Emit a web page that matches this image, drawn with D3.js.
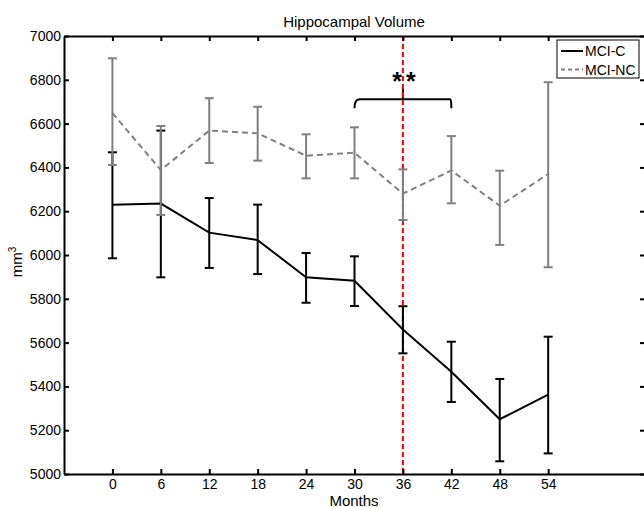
<!DOCTYPE html>
<html>
<head>
<meta charset="utf-8">
<script src="https://cdn.jsdelivr.net/npm/d3@7"></script>
<style>
  body { margin: 0; background: #fff; }
  svg { display: block; font-family: "Liberation Sans", Arial, sans-serif; }
</style>
</head>
<body>
<div id="chart"></div>
<script>
// months on the x axis
var months = [0, 6, 12, 18, 24, 30, 36, 42, 48, 54];

// MCI converters (black, solid)
var mciC     = [6230, 6235, 6102, 6068, 5898, 5882, 5660, 5467, 5250, 5362];
var mciCHigh = [6469, 6568, 6260, 6230, 6009, 5994, 5766, 5604, 5434, 5627];
var mciCLow  = [5985, 5898, 5941, 5913, 5782, 5767, 5551, 5329, 5058, 5094];

// MCI non-converters (grey, dashed)
var mciNC     = [6648, 6388, 6568, 6556, 6453, 6467, 6280, 6386, 6225, 6370];
var mciNCHigh = [6898, 6589, 6716, 6677, 6551, 6583, 6391, 6543, 6385, 6789];
var mciNCLow  = [6411, 6183, 6420, 6431, 6350, 6350, 6160, 6236, 6046, 5944];

var yTicks = [5000, 5200, 5400, 5600, 5800, 6000, 6200, 6400, 6600, 6800, 7000];
var markMonth = 36;              // red dashed line
var bracketFrom = 30, bracketTo = 42;
var bracketY = 6711;             // level of the significance bracket

// dimensions
var margin = {top: 36, left: 64},
  width = 581,
  height = 438;

var svg = d3.select("#chart").append("svg")
  .attr("width", 644)
  .attr("height", 508);

var x = d3.scaleLinear().domain([-6, 66]).range([margin.left, margin.left + width]);
var y = d3.scaleLinear().domain([5000, 7000]).range([margin.top + height, margin.top]);

var series = [
  {name: "MCI-C", v: mciC, hi: mciCHigh, lo: mciCLow, color: "#000", dash: null},
  {name: "MCI-NC", v: mciNC, hi: mciNCHigh, lo: mciNCLow, color: "#808080", dash: "6,4"}
];

// significance bracket
var bx1 = x(bracketFrom), bx2 = x(bracketTo), by = y(bracketY), bm = x(markMonth);
svg.append("path")
  .attr("d", "M" + bx1 + "," + (by + 9) + " Q" + bx1 + "," + by + " " + (bx1 + 5) + "," + by
    + " L" + (bx2 - 1) + "," + by + " Q" + bx2 + "," + by + " " + bx2 + "," + (by + 9))
  .attr("fill", "none").attr("stroke", "#000").attr("stroke-width", 2);
svg.append("line")
  .attr("x1", bm).attr("x2", bm).attr("y1", by).attr("y2", by - 11)
  .attr("stroke", "#000").attr("stroke-width", 2);
svg.append("text")
  .attr("x", bm + 3).attr("y", by - 9)
  .attr("text-anchor", "middle")
  .style("font-size", "25px").style("font-weight", "bold")
  .style("letter-spacing", "4px")
  .text("**");

// red dashed marker at 36 months
svg.append("line")
  .attr("x1", x(markMonth)).attr("x2", x(markMonth))
  .attr("y1", y(7000)).attr("y2", y(5000))
  .attr("stroke", "#ff0000").attr("stroke-width", 2)
  .attr("stroke-dasharray", "5,3");

// series: lines and error bars
var line = d3.line()
  .x(function (d) { return x(d[0]); })
  .y(function (d) { return y(d[1]); });

series.forEach(function (s) {
  var g = svg.append("g");
  months.forEach(function (m, i) {
    var cx = x(m);
    g.append("line").attr("x1", cx).attr("x2", cx)
      .attr("y1", y(s.hi[i])).attr("y2", y(s.lo[i]));
    g.append("line").attr("x1", cx - 4.5).attr("x2", cx + 4.5)
      .attr("y1", y(s.hi[i])).attr("y2", y(s.hi[i]));
    g.append("line").attr("x1", cx - 4.5).attr("x2", cx + 4.5)
      .attr("y1", y(s.lo[i])).attr("y2", y(s.lo[i]));
  });
  g.selectAll("line").attr("stroke", s.color).attr("stroke-width", 2);

  svg.append("path")
    .datum(months.map(function (m, i) { return [m, s.v[i]]; }))
    .attr("d", line)
    .attr("fill", "none")
    .attr("stroke", s.color)
    .attr("stroke-width", 2)
    .attr("stroke-dasharray", s.dash);
});

// axes (ticks pointing inward, matlab style)
var fmt = d3.format("d");
svg.append("g")
  .attr("transform", "translate(0," + (margin.top + height) + ")")
  .call(d3.axisBottom(x).tickValues(months).tickSizeInner(-5).tickSizeOuter(0).tickPadding(5).tickFormat(fmt));
svg.append("g")
  .attr("transform", "translate(0," + margin.top + ")")
  .call(d3.axisTop(x).tickValues(months).tickSizeInner(-5).tickSizeOuter(0).tickFormat(""));
svg.append("g")
  .attr("transform", "translate(" + margin.left + ",0)")
  .call(d3.axisLeft(y).tickValues(yTicks).tickSizeInner(-5).tickSizeOuter(0).tickPadding(3).tickFormat(fmt));
svg.append("g")
  .attr("transform", "translate(" + (margin.left + width) + ",0)")
  .call(d3.axisRight(y).tickValues(yTicks).tickSizeInner(-5).tickSizeOuter(0).tickFormat(""));

svg.selectAll(".domain").attr("stroke", "#000").attr("stroke-width", 2);
svg.selectAll(".tick line").attr("stroke", "#000").attr("stroke-width", 2);
svg.selectAll(".tick text")
  .style("font-size", "14px").style("font-family", "'Liberation Sans', Arial, sans-serif")
  .attr("fill", "#000");

// title and axis labels
svg.append("text")
  .attr("x", 354).attr("y", 27)
  .attr("text-anchor", "middle")
  .style("font-size", "15px")
  .text("Hippocampal Volume");

svg.append("text")
  .attr("x", 354).attr("y", 506)
  .attr("text-anchor", "middle")
  .style("font-size", "15px")
  .text("Months");

var yl = svg.append("text")
  .attr("transform", "translate(22," + 262 + ") rotate(-90)")
  .attr("text-anchor", "middle")
  .style("font-size", "15px");
yl.append("tspan").text("mm");
yl.append("tspan").attr("dy", -6).style("font-size", "10px").text("3");

// legend
var lg = svg.append("g").attr("transform", "translate(557,40)");
lg.append("rect")
  .attr("width", 82).attr("height", 38)
  .attr("fill", "#fff").attr("stroke", "#000").attr("stroke-width", 1);
series.forEach(function (s, i) {
  var ly = 11 + i * 18.5;
  lg.append("line")
    .attr("x1", 4).attr("x2", 26).attr("y1", ly).attr("y2", ly)
    .attr("stroke", s.color).attr("stroke-width", 2)
    .attr("stroke-dasharray", s.dash ? "4,3" : null);
  lg.append("text")
    .attr("x", 28).attr("y", ly + 5)
    .style("font-size", "14px")
    .text(s.name);
});
</script>
</body>
</html>
